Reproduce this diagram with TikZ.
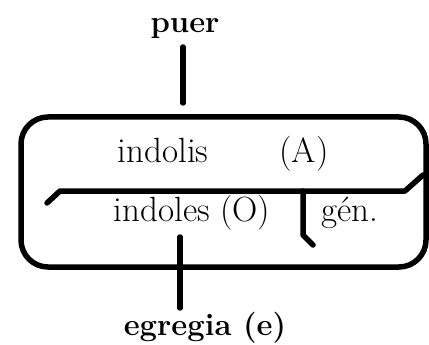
\documentclass[tikz,border=0pt]{standalone}
\usepackage{tikz}
\usetikzlibrary{positioning,calc}
\tikzset{
  rule/.style={draw=black,line width=5.5pt,line cap=round,line join=round},
  word/.style={inner sep=0pt,anchor=base,font=\fontsize{35}{40}\selectfont},
  head/.style={word,font=\fontsize{31}{36}\selectfont\bfseries},
}

\begin{document}
\begin{tikzpicture}[x=1pt,y=-1pt]
  \useasboundingbox (0,0) rectangle (429,345);
  % ===== outer words =====
  \node[head] (puer) at (185,33)  {puer};
  \node[head] (egr)  at (205,335) {egregia (e)};
  % ===== inner words =====
  \node[word] (indA) at (163,163) {indolis};
  \node[word] (tagA) at (304,163) {(A)};
  \node[word] (indO) at (192,222) {indoles (O)};
  \node[word] (gen)  at (350,222) {gén.};

  % frame
  \draw[rule,rounded corners=27pt] (21,117) rectangle (426,267);
  % split line with its bent ends
  \coordinate (sL) at (47,203);
  \coordinate (sR) at (423,175);
  \coordinate (sJ) at (303,191);
  \draw[rule] (sL)--(60,191)--(405,191)--(sR);
  \coordinate (gEnd) at (313,245);
  \draw[rule] (sJ)--(303,235)--(gEnd);
  % stems
  \coordinate (pTop) at (183,47);
  \coordinate (pBot) at (183,103);
  \draw[rule] (pTop)--(pBot);
  \coordinate (oTop) at (180,237);
  \coordinate (eTop) at (180,308);
  \draw[rule] (oTop)--(eTop);
\end{tikzpicture}
\end{document}
